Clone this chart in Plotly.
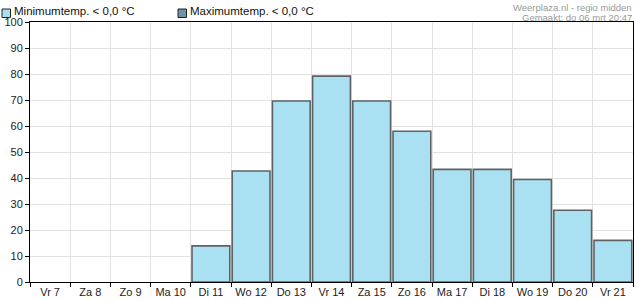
import plotly.graph_objects as go

days = ["Vr 7", "Za 8", "Zo 9", "Ma 10", "Di 11", "Wo 12", "Do 13", "Vr 14",
        "Za 15", "Zo 16", "Ma 17", "Di 18", "Wo 19", "Do 20", "Vr 21"]
min_below_zero = [0, 0, 0, 0, 13.9, 42.7, 69.6, 79.2, 69.6, 58.0, 43.3, 43.3, 39.4, 27.6, 16.0]
max_below_zero = [0] * 15
y_ticks = list(range(0, 101, 10))
series_names = ["Minimumtemp. < 0,0 °C", "Maximumtemp. < 0,0 °C"]
series_colors = ["#aae1f2", "#6b93ac"]
credit_lines = ["Weerplaza.nl - regio midden", "Gemaakt: do 06 mrt 20:47"]

FONT = "Liberation Sans, Arial, sans-serif"
W, H = 635, 300
ML, MR, MT, MB = 30, 2, 22, 18
PW, PH = W - ML - MR, H - MT - MB


def px_x(x):
    return (x - ML) / PW


def px_y(y):
    return (H - MB - y) / PH


def nz(vals):
    return [v if v > 0 else None for v in vals]


fig = go.Figure()
fig.add_trace(go.Bar(
    x=days, y=nz(min_below_zero), name=series_names[0], showlegend=False,
    marker=dict(color=series_colors[0], line=dict(color="#5e6264", width=1.6)),
))
fig.add_trace(go.Bar(
    x=days, y=nz(max_below_zero), name=series_names[1], showlegend=False,
    marker=dict(color=series_colors[1], line=dict(color="#3a3a3a", width=1)),
))

shapes = []
annotations = []
legend_x = [2, 178]
for lx, name, col in zip(legend_x, series_names, series_colors):
    shapes.append(dict(type="rect", xref="paper", yref="paper",
                       x0=px_x(lx), x1=px_x(lx + 8.5), y0=px_y(17.5), y1=px_y(9),
                       fillcolor=col, line=dict(color="#222", width=1)))
    annotations.append(dict(text=name, xref="paper", yref="paper",
                            x=px_x(lx + 11), y=px_y(11.5), xanchor="left", yanchor="middle",
                            showarrow=False, borderpad=0,
                            font=dict(size=11.5, color="#111", family=FONT)))

for i, line in enumerate(credit_lines):
    annotations.append(dict(text=line, xref="paper", yref="paper",
                            x=1.0, y=px_y(0.5 + 11 * i), xanchor="right", yanchor="top",
                            showarrow=False, borderpad=0,
                            font=dict(size=9.5, color="#9a9a9a", family=FONT)))

fig.update_layout(
    width=W, height=H,
    margin=dict(l=ML, r=MR, t=MT, b=MB, autoexpand=False),
    paper_bgcolor="white", plot_bgcolor="white",
    barmode="overlay", bargap=0.06,
    font=dict(family=FONT, size=11, color="#222"),
    showlegend=False,
    shapes=shapes,
    annotations=annotations,
)
fig.update_xaxes(
    type="category", tickson="boundaries", ticks="outside", ticklen=4, tickangle=0,
    tickcolor="black", showline=True, linecolor="black", linewidth=1, mirror=True,
    showgrid=True, gridcolor="#e2e2e2", gridwidth=1,
    tickfont=dict(size=11, color="#222"), automargin=False,
)
fig.update_yaxes(
    range=[0, 100], tickvals=y_ticks, ticks="outside", ticklen=4,
    tickcolor="black", showline=True, linecolor="black", linewidth=1, mirror=True,
    showgrid=True, gridcolor="#e2e2e2", gridwidth=1, zeroline=False,
    tickfont=dict(size=11, color="#222"), automargin=False,
)

fig.write_html("out.html")
